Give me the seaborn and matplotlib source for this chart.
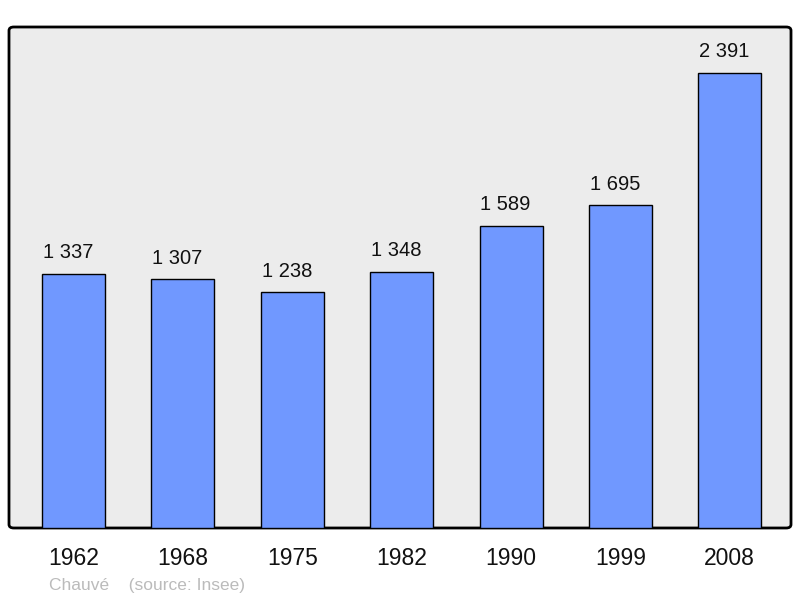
import matplotlib
matplotlib.use("Agg")
import matplotlib.pyplot as plt
from matplotlib.patches import FancyBboxPatch
import seaborn as sns
import pandas as pd

years = ["1962", "1968", "1975", "1982", "1990", "1999", "2008"]
population = [1337, 1307, 1238, 1348, 1589, 1695, 2391]
labels = ["1 337", "1 307", "1 238", "1 348", "1 589", "1 695", "2 391"]

df = pd.DataFrame({"year": years, "pop": population})

sns.set_style("white")
plt.rcParams["font.family"] = ["Liberation Sans", "DejaVu Sans"]

fig = plt.figure(figsize=(8, 5.98), dpi=100)
ax = fig.add_axes([9 / 800, 70 / 598, 782 / 800, 501 / 598])
ax.set_facecolor("none")

# rounded grey panel behind the bars
panel = FancyBboxPatch((9 / 800, 70 / 598), 782 / 800, 501 / 598,
                       boxstyle="round,pad=0,rounding_size=0.006",
                       transform=fig.transFigure, facecolor="#ececec",
                       edgecolor="black", linewidth=2, zorder=-1)
fig.patches.append(panel)

sns.barplot(data=df, x="year", y="pop", color="#7098ff", width=0.576,
            edgecolor="black", linewidth=1, saturation=1, ax=ax, zorder=2)

for i, (v, t) in enumerate(zip(population, labels)):
    ax.annotate(t, (i, v), xytext=(-4, 8.5), textcoords="offset points",
                ha="center", va="bottom", fontsize=14.5, color="#111111")

ax.set_xlim(-0.59, 6.56)
ax.set_ylim(0, 2633)
ax.set_xlabel("")
ax.set_ylabel("")
ax.set_yticks([])
ax.tick_params(axis="x", length=0, labelsize=16.5, pad=14, colors="#111111")
for s in ax.spines.values():
    s.set_visible(False)

fig.text(49 / 800, 1 - 590 / 598, "Chauvé    (source: Insee)",
         fontsize=12.5, color="#bbbbbb", ha="left", va="baseline")

fig.savefig("out.png", dpi=100)
